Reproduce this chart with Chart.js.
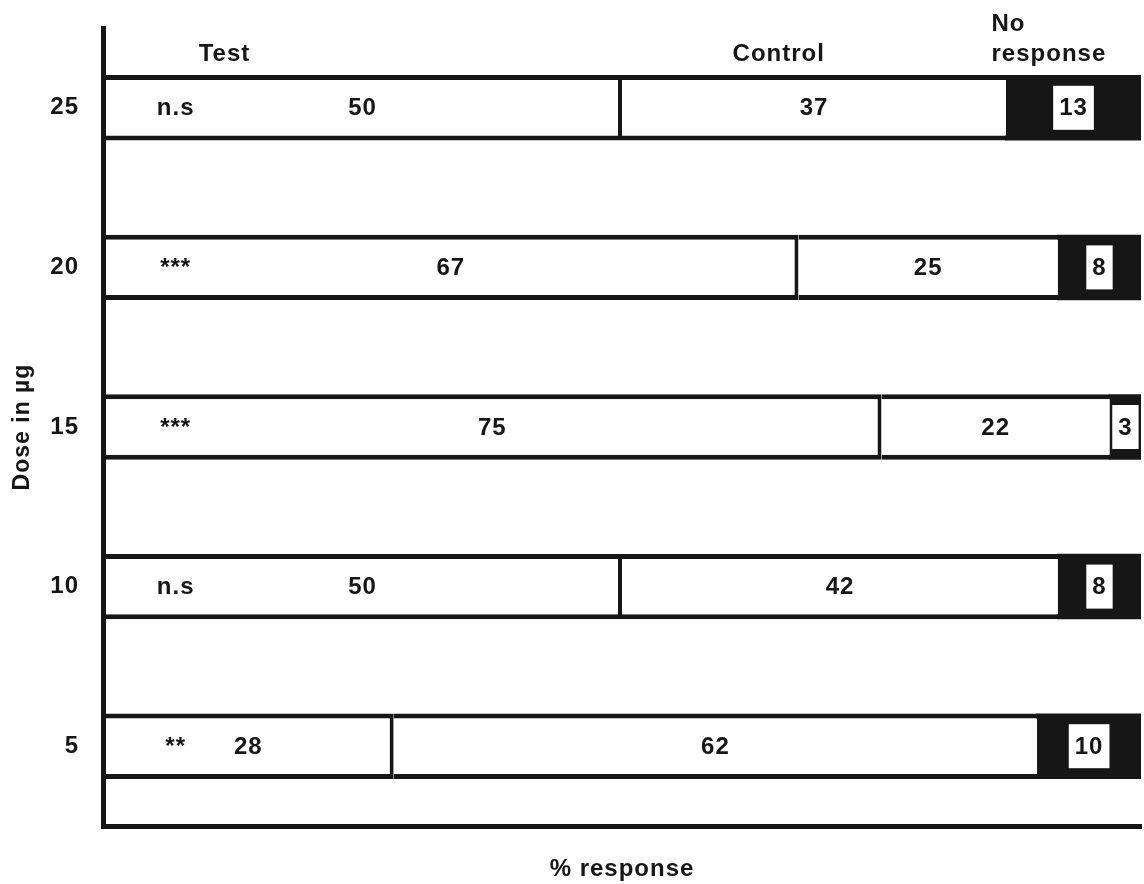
<!DOCTYPE html>
<html>
<head>
<meta charset="utf-8">
<script src="https://cdn.jsdelivr.net/npm/chart.js@4.4.1/dist/chart.umd.min.js"></script>
<style>
  html, body { margin: 0; padding: 0; background: #fff; }
  #wrap { width: 1144px; height: 884px; }
</style>
</head>
<body>
<div id="wrap"><canvas id="doseChart"></canvas></div>
<script>
// data
const doses = ['25', '20', '15', '10', '5'];
const testVals = [50, 67, 75, 50, 28];
const controlVals = [37, 25, 22, 42, 62];
const noRespVals = [13, 8, 3, 8, 10];
const sigMarks = ['n.s', '***', '***', 'n.s', '**'];
const seriesNames = ['Test', 'Control', 'No response'];

document.addEventListener('DOMContentLoaded', function() {
    const FONT = '"Liberation Sans", Arial, sans-serif';
    const ink = '#161616';

    // header labels above the top bar (x in % units)
    const headers = [
        { lines: ['Test'], x: 11.7, align: 'center' },
        { lines: ['Control'], x: 65.1, align: 'center' },
        { lines: ['No', 'response'], x: 85.6, align: 'left' }
    ];

    const labelPlugin = {
        id: 'labels',
        beforeDraw(chart) {
            // the scanned figure's lettering is a bit wider than Arial
            chart.ctx.letterSpacing = '1px';
        },
        afterDatasetsDraw(chart) {
            const ctx = chart.ctx;
            const xs = chart.scales.x;
            ctx.save();
            ctx.font = 'bold 24px ' + FONT;
            ctx.textBaseline = 'middle';
            ctx.textAlign = 'center';
            chart.data.datasets.forEach((ds, di) => {
                const meta = chart.getDatasetMeta(di);
                meta.data.forEach((bar, j) => {
                    const cx = (bar.x + bar.base) / 2;
                    const txt = String(ds.data[j]);
                    if (di === 2) {
                        // white box behind the no-response number
                        const w = ctx.measureText(txt).width + 12;
                        ctx.fillStyle = '#fff';
                        ctx.fillRect(cx - w / 2, bar.y - 22, w, 44);
                    }
                    ctx.fillStyle = ink;
                    ctx.fillText(txt, cx, bar.y + 1);
                });
            });
            // significance marks
            const meta0 = chart.getDatasetMeta(0);
            meta0.data.forEach((bar, j) => {
                ctx.fillText(sigMarks[j], xs.getPixelForValue(7), bar.y + 1);
            });
            // headers
            headers.forEach(h => {
                ctx.textAlign = h.align;
                h.lines.forEach((ln, k) => {
                    const y = 54 - (h.lines.length - 1 - k) * 30;
                    ctx.fillText(ln, xs.getPixelForValue(h.x), y);
                });
            });
            ctx.restore();
        }
    };

    const barBase = {
        borderColor: ink,
        borderSkipped: false,
        barPercentage: 0.41,
        categoryPercentage: 1.0
    };

    new Chart(document.getElementById('doseChart'), {
        type: 'bar',
        data: {
            labels: doses,
            datasets: [
                { ...barBase, label: seriesNames[0], data: testVals, backgroundColor: '#fff',
                  borderWidth: { top: 5, bottom: 5, left: 2, right: 4 } },
                { ...barBase, label: seriesNames[1], data: controlVals, backgroundColor: '#fff',
                  borderWidth: { top: 5, bottom: 5, left: 0, right: 0 } },
                // solid black block, grown 1px so no seam shows against the neighbour
                { ...barBase, label: seriesNames[2], data: noRespVals, backgroundColor: ink,
                  borderWidth: 0, inflateAmount: 1, barPercentage: 0.398 }
            ]
        },
        options: {
            indexAxis: 'y',
            responsive: true,
            maintainAspectRatio: false,
            animation: false,
            layout: { padding: { top: 28, right: 3, left: 0, bottom: 0 } },
            plugins: { legend: { display: false }, tooltip: { enabled: false } },
            scales: {
                x: {
                    stacked: true,
                    min: 0,
                    max: 100,
                    grid: { display: false, drawTicks: false },
                    border: { display: true, width: 5, color: ink, z: 1 },
                    ticks: { display: false },
                    title: { display: true, text: '% response', color: ink,
                             font: { family: FONT, size: 24, weight: 'bold' }, padding: 0 },
                    afterFit(scale) { scale.height = 58; }
                },
                y: {
                    stacked: true,
                    grid: { display: false, drawTicks: false },
                    border: { display: true, width: 5, color: ink, z: 1 },
                    ticks: { color: ink, padding: 24, font: { family: FONT, size: 24, weight: 'bold' } },
                    title: { display: true, text: 'Dose in µg', color: ink,
                             font: { family: FONT, size: 23, weight: 'bold' }, padding: { top: 9, bottom: 0 } },
                    afterFit(scale) {
                        scale.width = 103;
                        scale.paddingTop = 0;
                        scale.paddingBottom = 0;
                    }
                }
            }
        },
        plugins: [labelPlugin]
    });
});
</script>
</body>
</html>
